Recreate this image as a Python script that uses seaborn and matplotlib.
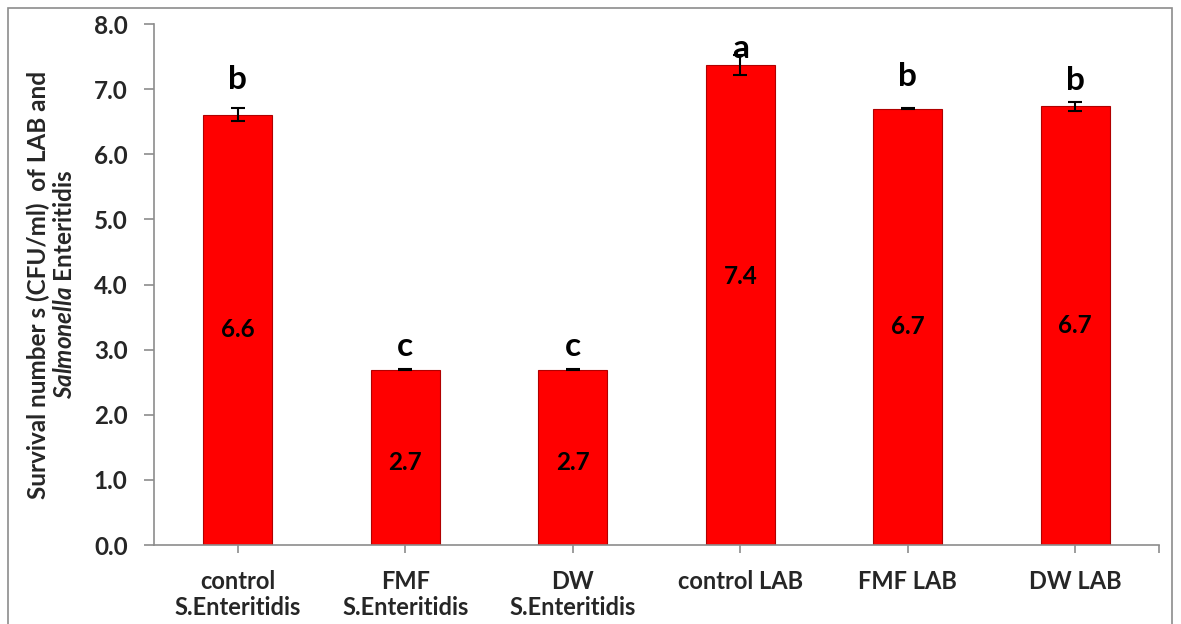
import matplotlib
matplotlib.use("Agg")
import matplotlib.pyplot as plt
import seaborn as sns
import pandas as pd
from matplotlib.patches import Rectangle

categories = ["control\nS.Enteritidis", "FMF\nS.Enteritidis", "DW\nS.Enteritidis",
              "control LAB", "FMF LAB", "DW LAB"]
values = [6.61, 2.69, 2.69, 7.37, 6.70, 6.74]
errors = [0.10, 0.01, 0.01, 0.15, 0.01, 0.07]
value_labels = ["6.6", "2.7", "2.7", "7.4", "6.7", "6.7"]
letters = ["b", "c", "c", "a", "b", "b"]
letter_gap = [0.22, 0.13, 0.13, -0.12, 0.26, 0.10]
label_frac = [0.50, 0.47, 0.47, 0.56, 0.50, 0.50]
yticks = [0.0, 1.0, 2.0, 3.0, 4.0, 5.0, 6.0, 7.0, 8.0]

sns.set_theme(style="white")
plt.rcParams["font.family"] = ["Lato", "DejaVu Sans"]
plt.rcParams["font.weight"] = "bold"
plt.rcParams["mathtext.fontset"] = "custom"
plt.rcParams["mathtext.bfit"] = "Lato:italic:bold"
plt.rcParams["mathtext.rm"] = "Lato:bold"

fig = plt.figure(figsize=(11.81, 6.24), dpi=100)
ax = fig.add_axes([0.1304, 0.1266, 0.8510, 0.8349])

df = pd.DataFrame({"cat": categories, "val": values})
sns.barplot(data=df, x="cat", y="val", color="#FF0000", width=0.41,
            edgecolor="#B00000", linewidth=0.8, saturation=1, ax=ax)

xs = [p.get_x() + p.get_width() / 2 for p in ax.patches]
ax.errorbar(xs, values, yerr=errors, fmt="none", ecolor="black",
            elinewidth=1.5, capsize=5, capthick=1.5, zorder=5)

for x, v, e, lab, let, g, f in zip(xs, values, errors, value_labels, letters, letter_gap, label_frac):
    ax.text(x, v * f, lab, ha="center", va="center", fontsize=17.5,
            fontweight="bold", color="black")
    ax.text(x, v + e + g, let, ha="center", va="bottom", fontsize=24,
            fontweight="bold", color="black")

ax.set_ylim(0, 8)
ax.set_xlim(-0.5, 5.5)
ax.set_yticks(yticks)
ax.set_yticklabels([f"{t:.1f}" for t in yticks], fontsize=17.5, fontweight="bold")
ax.set_xticks(range(len(categories)))
ax.set_xticklabels(categories, fontsize=17, fontweight="bold", linespacing=1.15)
ax.set_xticks([5.5], minor=True)
ax.set_xlabel("")
ax.set_ylabel("Survival number s (CFU/ml)  of LAB and\n$\\mathbfit{Salmonella}$ Enteritidis",
              fontsize=17.5, fontweight="bold", labelpad=13, linespacing=1.12)

for s in ["top", "right"]:
    ax.spines[s].set_visible(False)
for s in ["left", "bottom"]:
    ax.spines[s].set_color("#8C8C8C")
    ax.spines[s].set_linewidth(1.2)
ax.tick_params(axis="y", which="major", left=True, length=7, width=1.2,
               color="#8C8C8C", pad=12, direction="out")
ax.tick_params(axis="x", which="both", bottom=True, length=6, width=1.2,
               color="#8C8C8C", pad=12, direction="out")
ax.grid(False)

fig.patches.append(Rectangle((8 / 1181, -0.01), (1172 - 8) / 1181, (616 + 6) / 624,
                             transform=fig.transFigure, fill=False,
                             edgecolor="#8C8C8C", linewidth=1.2))

fig.savefig("out.png", dpi=100)
